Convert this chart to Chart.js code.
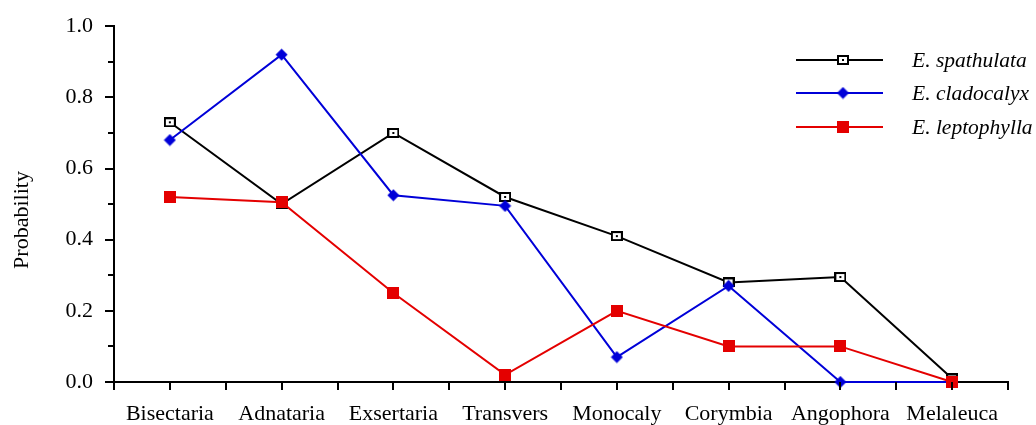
<!DOCTYPE html>
<html>
<head>
<meta charset="utf-8">
<script src="https://cdn.jsdelivr.net/npm/chart.js@4/dist/chart.umd.min.js"></script>
<style>
  html, body { margin: 0; padding: 0; background: #fff; }
  #wrap { width: 1036px; height: 425px; position: relative; }
</style>
</head>
<body>
<div id="wrap"><canvas id="chart"></canvas></div>
<script>
// Sections / genera along the x axis
const categories = ['Bisectaria', 'Adnataria', 'Exsertaria', 'Transvers', 'Monocaly', 'Corymbia', 'Angophora', 'Melaleuca'];

// Probability per species
const spathulata  = [0.73, 0.50, 0.70, 0.52, 0.41, 0.28, 0.295, 0.01];
const cladocalyx  = [0.68, 0.92, 0.525, 0.495, 0.07, 0.27, 0.0, 0.0];
const leptophylla = [0.52, 0.505, 0.25, 0.02, 0.20, 0.10, 0.10, 0.0];

const seriesNames = ['E. spathulata', 'E. cladocalyx', 'E. leptophylla'];
const yTicks = [0, 0.2, 0.4, 0.6, 0.8, 1.0];

const SERIF = '"Liberation Serif", "DejaVu Serif", serif';
const BLACK = '#000000';
const BLUE = '#0000d8';
const RED = '#e40000';

// Marker images
function makeCanvas(w, h, draw) {
  const c = document.createElement('canvas');
  c.width = w; c.height = h;
  draw(c.getContext('2d'));
  return c;
}
const openSquare = makeCanvas(12, 10, ctx => {
  ctx.fillStyle = '#fff';
  ctx.fillRect(1, 1, 10, 8);
  ctx.strokeStyle = BLACK;
  ctx.lineWidth = 2;
  ctx.strokeRect(1, 1, 10, 8);
  ctx.fillStyle = BLACK;
  ctx.fillRect(5, 4, 2, 2);
});
const diamond = makeCanvas(13, 13, ctx => {
  ctx.fillStyle = BLUE;
  ctx.beginPath();
  ctx.moveTo(6.5, 0.5);
  ctx.lineTo(12.5, 6.5);
  ctx.lineTo(6.5, 12.5);
  ctx.lineTo(0.5, 6.5);
  ctx.closePath();
  ctx.fill();
});
const filledSquare = makeCanvas(12, 12, ctx => {
  ctx.fillStyle = RED;
  ctx.fillRect(0, 0, 12, 12);
});

// Tick marks: major/minor on y, category centres and boundaries on x
const tickMarks = {
  id: 'tickMarks',
  afterDraw(chart) {
    const ctx = chart.ctx;
    const x = chart.scales.x, y = chart.scales.y;
    const area = chart.chartArea;
    ctx.save();
    ctx.strokeStyle = BLACK;
    ctx.lineWidth = 2;
    ctx.beginPath();
    for (let i = 0; i <= 10; i++) {
      const py = Math.round(y.getPixelForValue(i / 10));
      const len = (i % 2 === 0) ? 9 : 6;
      ctx.moveTo(area.left - len, py);
      ctx.lineTo(area.left, py);
    }
    for (let i = 0; i <= categories.length * 2; i++) {
      const px = Math.round(x.getPixelForValue(i / 2 - 0.5));
      ctx.moveTo(px, area.bottom);
      ctx.lineTo(px, area.bottom + 8);
    }
    ctx.stroke();
    ctx.restore();
  }
};

// Axis title drawn rotated along the left edge
const yTitle = {
  id: 'yTitle',
  afterDraw(chart) {
    const ctx = chart.ctx;
    ctx.save();
    ctx.translate(22, 220);
    ctx.rotate(-Math.PI / 2);
    ctx.fillStyle = BLACK;
    ctx.font = '22px ' + SERIF;
    ctx.textAlign = 'center';
    ctx.textBaseline = 'middle';
    ctx.fillText('Probability', 0, 0);
    ctx.restore();
  }
};

// Legend: line sample with marker in its middle, italic species name
const sampleLegend = {
  id: 'sampleLegend',
  afterDraw(chart) {
    const ctx = chart.ctx;
    const rows = [
      { y: 60, color: BLACK, img: openSquare },
      { y: 93, color: BLUE, img: diamond },
      { y: 127, color: RED, img: filledSquare }
    ];
    ctx.save();
    rows.forEach((r, i) => {
      ctx.strokeStyle = r.color;
      ctx.lineWidth = 2;
      ctx.beginPath();
      ctx.moveTo(796, r.y);
      ctx.lineTo(883, r.y);
      ctx.stroke();
      ctx.drawImage(r.img, 843 - r.img.width / 2, r.y - r.img.height / 2);
      ctx.fillStyle = BLACK;
      ctx.font = 'italic 21.5px ' + SERIF;
      ctx.textAlign = 'left';
      ctx.textBaseline = 'middle';
      ctx.fillText(seriesNames[i], 912, r.y + 1);
    });
    ctx.restore();
  }
};

new Chart(document.getElementById('chart'), {
  type: 'line',
  data: {
    labels: categories,
    datasets: [
      {
        label: seriesNames[0], data: spathulata,
        borderColor: BLACK, backgroundColor: BLACK, borderWidth: 2,
        pointStyle: openSquare, order: 3, clip: false
      },
      {
        label: seriesNames[1], data: cladocalyx,
        borderColor: BLUE, backgroundColor: BLUE, borderWidth: 2,
        pointStyle: diamond, order: 2, clip: false
      },
      {
        label: seriesNames[2], data: leptophylla,
        borderColor: RED, backgroundColor: RED, borderWidth: 2,
        pointStyle: filledSquare, order: 1, clip: false
      }
    ]
  },
  options: {
    responsive: true,
    maintainAspectRatio: false,
    animation: false,
    layout: { padding: { top: 13, right: 28, left: 0, bottom: 0 } },
    plugins: {
      legend: { display: false },
      tooltip: { enabled: false },
      title: { display: false }
    },
    elements: { line: { tension: 0 } },
    scales: {
      x: {
        type: 'category',
        offset: true,
        grid: { display: false },
        border: { display: true, color: BLACK, width: 2 },
        ticks: {
          color: BLACK,
          font: { family: SERIF, size: 22 },
          padding: 11,
          autoSkip: false,
          maxRotation: 0
        },
        afterFit(scale) { scale.height = 43; }
      },
      y: {
        min: 0,
        max: 1,
        grid: { display: false },
        border: { display: true, color: BLACK, width: 2 },
        ticks: {
          stepSize: 0.1,
          color: BLACK,
          font: { family: SERIF, size: 22 },
          padding: 13,
          callback(v) {
            const hit = yTicks.find(t => Math.abs(t - v) < 1e-6);
            return hit === undefined ? '' : hit.toFixed(1);
          }
        },
        afterFit(scale) { scale.width = 114; }
      }
    }
  },
  plugins: [tickMarks, yTitle, sampleLegend]
});
</script>
</body>
</html>
